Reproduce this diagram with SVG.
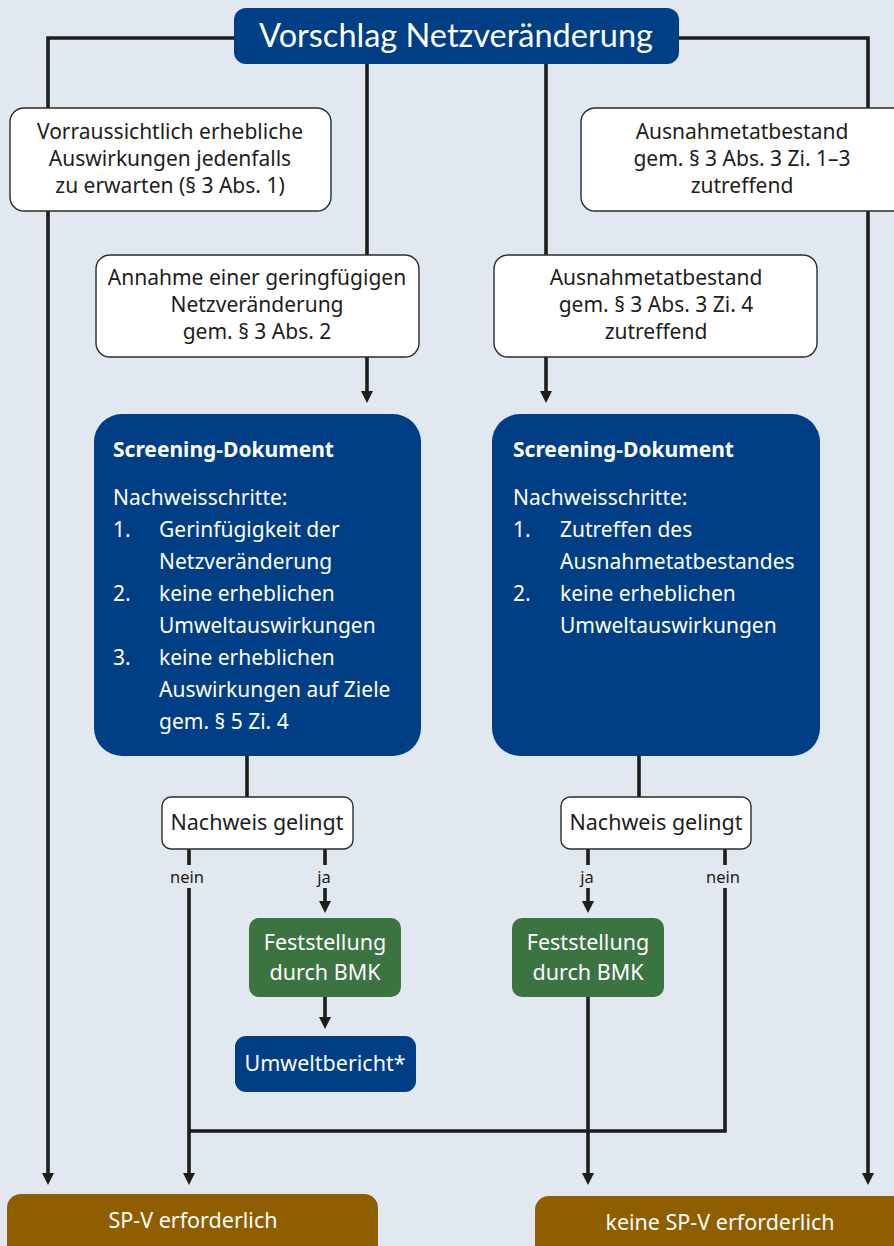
<svg xmlns="http://www.w3.org/2000/svg" width="894" height="1246" viewBox="0 0 894 1246">
<defs>
<marker id="ah" markerUnits="userSpaceOnUse" viewBox="0 -6 12 12" refX="0" refY="0" markerWidth="12" markerHeight="12" orient="auto">
<path d="M0,-6 L12,0 L0,6 z" fill="#1d1d1b"/>
</marker>
<style>
.bg{fill:#e1e8ef}
.line{fill:none;stroke:#1d1d1b;stroke-width:3.6}
.arr{fill:none;stroke:#1d1d1b;stroke-width:3.6;marker-end:url(#ah)}
.white{fill:#ffffff;stroke:#2b2b2b;stroke-width:1.4}
.blue{fill:#003e85}
.green{fill:#3b7341}
.brown{fill:#8f5e00}
text{font-family:"Noto Sans","Liberation Sans",sans-serif}
.t{font-size:21px;fill:#1d1d1b;text-anchor:middle}
.tw{font-size:21px;fill:#ffffff}
.twc{font-size:21.5px;fill:#ffffff;text-anchor:middle}
.lbl{font-size:16.5px;fill:#1d1d1b;text-anchor:middle}
.title{font-family:Lato,"Noto Sans",sans-serif;font-size:32.5px;fill:#ffffff;text-anchor:middle}
.b{font-weight:bold}
</style>
</defs>
<rect class="bg" x="0" y="0" width="894" height="1246"/>

<g id="connectors">
<path class="arr" d="M234,38 H48 V1173"/>
<path class="arr" d="M679,38 H868 V1173"/>
<path class="line" d="M367,64 V255"/>
<path class="line" d="M546,64 V255"/>
<path class="arr" d="M367,357 V391"/>
<path class="arr" d="M546,357 V391"/>
<path class="line" d="M247,756 V797"/>
<path class="line" d="M639,756 V797"/>
<path class="line" d="M189,849 V865"/>
<path class="arr" d="M189,888 V1173"/>
<path class="line" d="M325,849 V865"/>
<path class="arr" d="M325,888 V901"/>
<path class="arr" d="M325,997 V1017"/>
<path class="line" d="M588,849 V865"/>
<path class="arr" d="M588,888 V901"/>
<path class="line" d="M725,849 V865"/>
<path class="line" d="M725,888 V1131 H189"/>
<path class="arr" d="M588,997 V1173"/>
<text class="lbl" x="187" y="883">nein</text>
<text class="lbl" x="324" y="883">ja</text>
<text class="lbl" x="587" y="883">ja</text>
<text class="lbl" x="723" y="883">nein</text>
</g>

<g id="title">
<rect class="blue" x="234" y="8" width="445" height="56" rx="12"/>
<text class="title" x="456" y="47">Vorschlag Netzveränderung</text>
</g>

<g id="box-erheblich">
<rect class="white" x="10" y="108" width="321" height="103" rx="14"/>
<text class="t" x="170" y="139">Vorraussichtlich erhebliche</text>
<text class="t" x="170" y="166">Auswirkungen jedenfalls</text>
<text class="t" x="170" y="193">zu erwarten (§ 3 Abs. 1)</text>
</g>

<g id="box-ausnahme13">
<rect class="white" x="581" y="108" width="330" height="103" rx="14"/>
<text class="t" x="742" y="139">Ausnahmetatbestand</text>
<text class="t" x="742" y="166">gem. § 3 Abs. 3 Zi. 1–3</text>
<text class="t" x="742" y="193">zutreffend</text>
</g>

<g id="box-annahme">
<rect class="white" x="96" y="255" width="323" height="102" rx="14"/>
<text class="t" x="257" y="285">Annahme einer geringfügigen</text>
<text class="t" x="257" y="312">Netzveränderung</text>
<text class="t" x="257" y="339">gem. § 3 Abs. 2</text>
</g>

<g id="box-ausnahme4">
<rect class="white" x="494" y="255" width="323" height="102" rx="14"/>
<text class="t" x="656" y="285">Ausnahmetatbestand</text>
<text class="t" x="656" y="312">gem. § 3 Abs. 3 Zi. 4</text>
<text class="t" x="656" y="339">zutreffend</text>
</g>

<g id="screening-left">
<rect class="blue" x="94" y="414" width="327" height="342" rx="28"/>
<text class="tw b" x="113" y="457">Screening-Dokument</text>
<text class="tw" x="113" y="505">Nachweisschritte:</text>
<text class="tw" x="113" y="537">1.</text>
<text class="tw" x="159" y="537">Gerinfügigkeit der</text>
<text class="tw" x="159" y="569">Netzveränderung</text>
<text class="tw" x="113" y="601">2.</text>
<text class="tw" x="159" y="601">keine erheblichen</text>
<text class="tw" x="159" y="633">Umweltauswirkungen</text>
<text class="tw" x="113" y="665">3.</text>
<text class="tw" x="159" y="665">keine erheblichen</text>
<text class="tw" x="159" y="697">Auswirkungen auf Ziele</text>
<text class="tw" x="159" y="729">gem. § 5 Zi. 4</text>
</g>

<g id="screening-right">
<rect class="blue" x="492" y="414" width="328" height="342" rx="28"/>
<text class="tw b" x="513" y="457">Screening-Dokument</text>
<text class="tw" x="513" y="505">Nachweisschritte:</text>
<text class="tw" x="513" y="537">1.</text>
<text class="tw" x="560" y="537">Zutreffen des</text>
<text class="tw" x="560" y="569">Ausnahmetatbestandes</text>
<text class="tw" x="513" y="601">2.</text>
<text class="tw" x="560" y="601">keine erheblichen</text>
<text class="tw" x="560" y="633">Umweltauswirkungen</text>
</g>

<g id="nachweis-left">
<rect class="white" x="162" y="797" width="191" height="52" rx="9"/>
<text class="t" x="257" y="830" style="font-size:21.5px">Nachweis gelingt</text>
</g>

<g id="nachweis-right">
<rect class="white" x="561" y="797" width="190" height="52" rx="9"/>
<text class="t" x="656" y="830" style="font-size:21.5px">Nachweis gelingt</text>
</g>

<g id="feststellung-left">
<rect class="green" x="249" y="918" width="152" height="79" rx="10"/>
<text class="twc" x="325" y="950">Feststellung</text>
<text class="twc" x="325" y="980">durch BMK</text>
</g>

<g id="feststellung-right">
<rect class="green" x="512" y="918" width="152" height="79" rx="10"/>
<text class="twc" x="588" y="950">Feststellung</text>
<text class="twc" x="588" y="980">durch BMK</text>
</g>

<g id="umweltbericht">
<rect class="blue" x="235" y="1036" width="181" height="56" rx="11"/>
<text class="twc" x="325" y="1071">Umweltbericht*</text>
</g>

<g id="spv-erforderlich">
<rect class="brown" x="7" y="1194" width="371" height="70" rx="14"/>
<text class="twc" x="193" y="1228">SP-V erforderlich</text>
</g>

<g id="keine-spv">
<rect class="brown" x="535" y="1196" width="380" height="70" rx="14"/>
<text class="twc" x="720" y="1230">keine SP-V erforderlich</text>
</g>
</svg>
